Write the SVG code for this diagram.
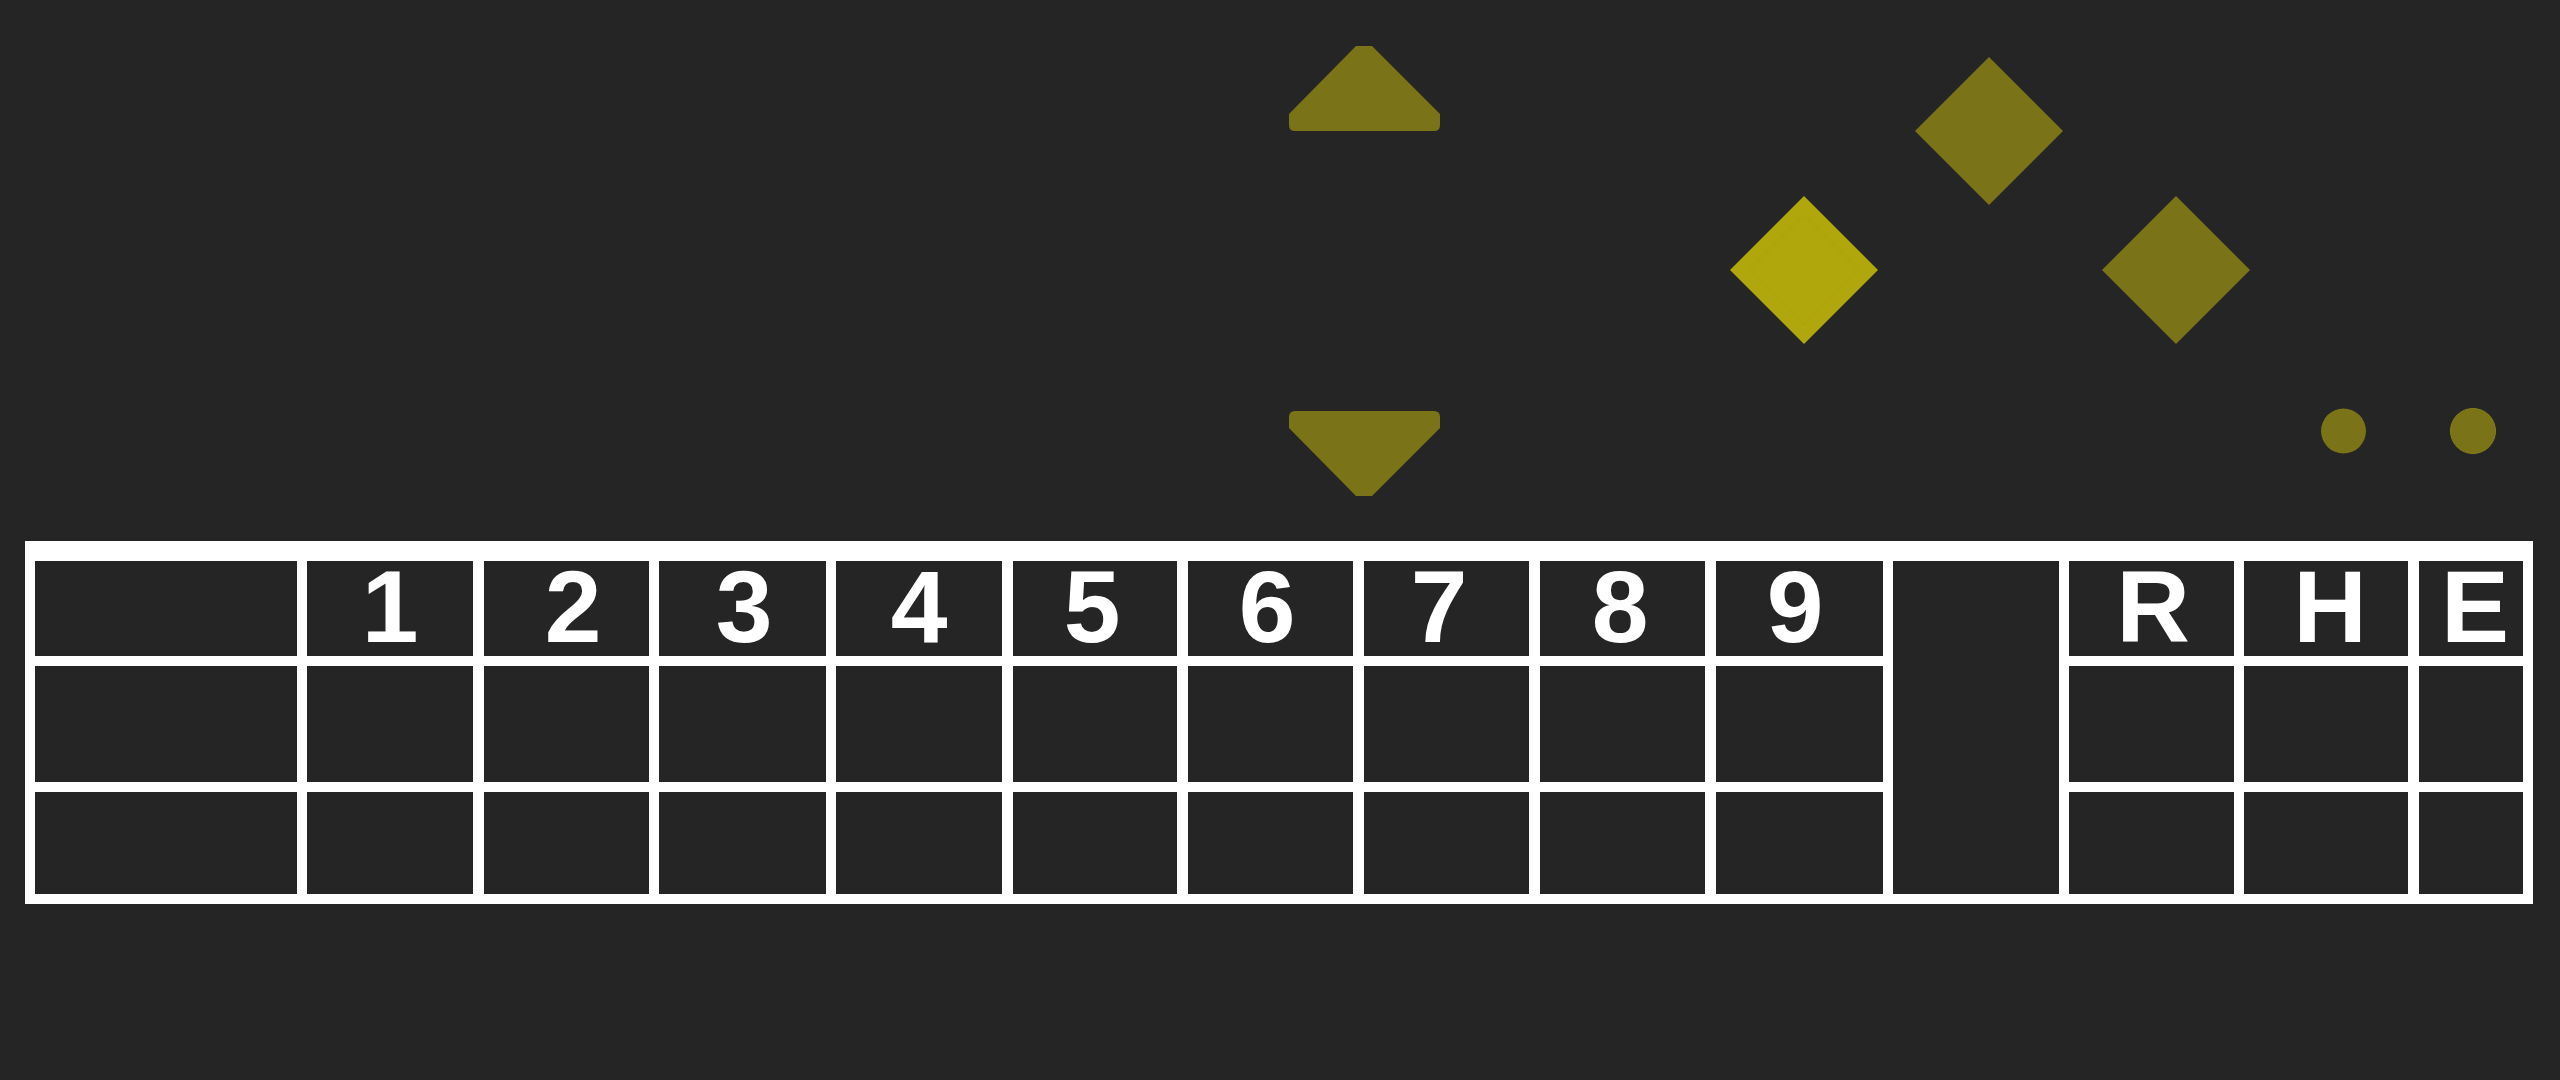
<svg xmlns="http://www.w3.org/2000/svg" width="2560" height="1080" viewBox="0 0 2560 1080">
  <style>
    .cell { fill: #252525; }
    .lbl { font-family: "Liberation Sans", Arial, sans-serif; font-weight: 700; font-size: 102px; fill: #ffffff; text-anchor: middle; }
    .dim { fill: #7a7317; }
    .lit { fill: #b0a70d; }
  </style>
  <rect x="0" y="0" width="2560" height="1080" fill="#252525"/>

  <g id="bases">
    <g id="base-second"><path class="dim" d="M1989,57 L2063,131 L1989,205 L1915,131 Z"/></g>
    <g id="base-first"><path class="dim" d="M2176,196 L2250,270 L2176,344 L2102,270 Z"/></g>
    <g id="base-third">
      <path class="lit" d="M1804,196 L1878,270 L1804,344 L1730,270 Z"/>
      <path d="M1804,215 L1859,270 L1804,325 L1749,270 Z" fill="none" stroke="#aaa10e" stroke-width="1"/>
    </g>
  </g>

  <g id="arrow-up"><path class="dim" d="M1356,46 L1372,46 L1440,114 L1440,125 Q1440,131 1434,131 L1295,131 Q1289,131 1289,125 L1289,114 Z"/></g>
  <g id="arrow-down"><path class="dim" d="M1356,496 L1372,496 L1440,428 L1440,417 Q1440,411 1434,411 L1295,411 Q1289,411 1289,417 L1289,428 Z"/></g>

  <g id="outs">
    <circle id="out-1" class="dim" cx="2343.5" cy="431" r="22.5"/>
    <circle id="out-2" class="dim" cx="2473" cy="431" r="22.5" stroke="#858019" stroke-width="1"/>
  </g>

  <g id="scoreboard">
    <rect x="25" y="541" width="2508" height="363" fill="#ffffff"/>
    <g id="row-header">
      <rect class="cell" x="35" y="561" width="262" height="95"/>
      <rect class="cell" x="307" y="561" width="166" height="95"/>
      <rect class="cell" x="484" y="561" width="165" height="95"/>
      <rect class="cell" x="659" y="561" width="167" height="95"/>
      <rect class="cell" x="836" y="561" width="166" height="95"/>
      <rect class="cell" x="1013" y="561" width="164" height="95"/>
      <rect class="cell" x="1188" y="561" width="165" height="95"/>
      <rect class="cell" x="1364" y="561" width="165" height="95"/>
      <rect class="cell" x="1540" y="561" width="165" height="95"/>
      <rect class="cell" x="1716" y="561" width="167" height="95"/>
      <rect class="cell" x="2069" y="561" width="165" height="95"/>
      <rect class="cell" x="2244" y="561" width="164" height="95"/>
      <rect class="cell" x="2419" y="561" width="104" height="95"/>
    </g>
    <g id="row-away">
      <rect class="cell" x="35" y="666" width="262" height="116"/>
      <rect class="cell" x="307" y="666" width="166" height="116"/>
      <rect class="cell" x="484" y="666" width="165" height="116"/>
      <rect class="cell" x="659" y="666" width="167" height="116"/>
      <rect class="cell" x="836" y="666" width="166" height="116"/>
      <rect class="cell" x="1013" y="666" width="164" height="116"/>
      <rect class="cell" x="1188" y="666" width="165" height="116"/>
      <rect class="cell" x="1364" y="666" width="165" height="116"/>
      <rect class="cell" x="1540" y="666" width="165" height="116"/>
      <rect class="cell" x="1716" y="666" width="167" height="116"/>
      <rect class="cell" x="2069" y="666" width="165" height="116"/>
      <rect class="cell" x="2244" y="666" width="164" height="116"/>
      <rect class="cell" x="2419" y="666" width="104" height="116"/>
    </g>
    <g id="row-home">
      <rect class="cell" x="35" y="792" width="262" height="102"/>
      <rect class="cell" x="307" y="792" width="166" height="102"/>
      <rect class="cell" x="484" y="792" width="165" height="102"/>
      <rect class="cell" x="659" y="792" width="167" height="102"/>
      <rect class="cell" x="836" y="792" width="166" height="102"/>
      <rect class="cell" x="1013" y="792" width="164" height="102"/>
      <rect class="cell" x="1188" y="792" width="165" height="102"/>
      <rect class="cell" x="1364" y="792" width="165" height="102"/>
      <rect class="cell" x="1540" y="792" width="165" height="102"/>
      <rect class="cell" x="1716" y="792" width="167" height="102"/>
      <rect class="cell" x="2069" y="792" width="165" height="102"/>
      <rect class="cell" x="2244" y="792" width="164" height="102"/>
      <rect class="cell" x="2419" y="792" width="104" height="102"/>
    </g>
    <rect id="gap-column" class="cell" x="1893" y="561" width="166" height="333"/>
    <g id="labels">
      <text class="lbl" x="390" y="642">1</text>
      <text class="lbl" x="573" y="642">2</text>
      <text class="lbl" x="744" y="642">3</text>
      <text class="lbl" x="919" y="642">4</text>
      <text class="lbl" x="1092" y="642">5</text>
      <text class="lbl" x="1267" y="642">6</text>
      <text class="lbl" x="1439" y="642">7</text>
      <text class="lbl" x="1620" y="642">8</text>
      <text class="lbl" x="1795" y="642">9</text>
      <text class="lbl" x="2153" y="642">R</text>
      <text class="lbl" x="2330" y="642">H</text>
      <text class="lbl" x="2475" y="642">E</text>
    </g>
  </g>

  <g id="connectors"/>
</svg>
